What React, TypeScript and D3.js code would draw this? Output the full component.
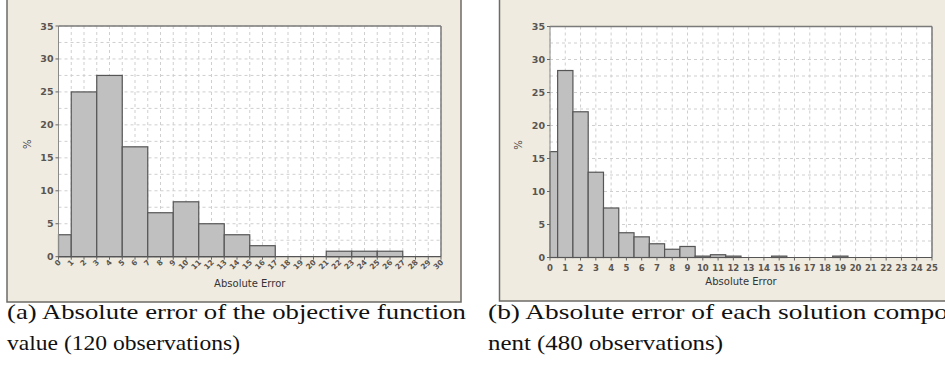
import React from "react";
import * as d3 from "d3";

// Panel (a): absolute error of the objective function (bins width 2, first bin 0-1)
const edgesA = [0, 1, 3, 5, 7, 9, 11, 13, 15, 17, 19, 21, 23, 25, 27, 29, 30];
const pctA = [3.33, 25, 27.5, 16.67, 6.67, 8.33, 5, 3.33, 1.67, 0, 0, 0.83, 0.83, 0.83, 0, 0];
const xTicksA = d3.range(0, 31);

// Panel (b): absolute error of each solution component (bins width 1, first bin 0-0.5)
const edgesB = [0, 0.5, 1.5, 2.5, 3.5, 4.5, 5.5, 6.5, 7.5, 8.5, 9.5, 10.5, 11.5, 12.5, 13.5, 14.5, 15.5, 16.5, 17.5, 18.5, 19.5, 20.5, 21.5, 22.5, 23.5, 24.5, 25];
const pctB = [16.04, 28.33, 22.08, 12.92, 7.5, 3.75, 3.13, 2.08, 1.25, 1.67, 0.21, 0.42, 0.21, 0, 0, 0.21, 0, 0, 0, 0.21, 0, 0, 0, 0, 0, 0];
const xTicksB = d3.range(0, 26);

const yTicks = [0, 5, 10, 15, 20, 25, 30, 35];
const yGrid = d3.range(0, 35.01, 2.5);

const captionA = ["(a) Absolute error of the objective function", "value (120 observations)"];
const captionB = ["(b) Absolute error of each solution compo", "nent (480 observations)"];

type PanelProps = {
  frameX: number; frameW: number; frameH: number;
  left: number; right: number; top: number; bottom: number;
  xMax: number; edges: number[]; values: number[]; xTicks: number[];
  rotated: boolean; yLabelX: number; xLabelY: number;
};

const tickFont = "'DejaVu Sans', Verdana, sans-serif";

function Panel(p: PanelProps) {
  const x = d3.scaleLinear().domain([0, p.xMax]).range([p.left, p.right]);
  const y = d3.scaleLinear().domain([0, 35]).range([p.bottom, p.top]);
  return (
    <g>
      <rect x={p.frameX} y={-1} width={p.frameW} height={p.frameH} fill="#efebe1" stroke="#6e6b66" strokeWidth={1.5} />
      <rect x={p.left} y={p.top} width={p.right - p.left} height={p.bottom - p.top} fill="#ffffff" />
      {p.xTicks.map((t) => (
        <line key={"vg" + t} x1={x(t)} x2={x(t)} y1={p.top} y2={p.bottom} stroke="#cfcfcf" strokeDasharray="3,3" strokeWidth={1} />
      ))}
      {yGrid.map((t) => (
        <line key={"hg" + t} x1={p.left} x2={p.right} y1={y(t)} y2={y(t)} stroke="#cfcfcf" strokeDasharray="3,3" strokeWidth={1} />
      ))}
      {p.values.map((v, i) =>
        v > 0 ? (
          <rect key={"b" + i} x={x(p.edges[i])} y={y(v)} width={x(p.edges[i + 1]) - x(p.edges[i])} height={y(0) - y(v)}
            fill="#c0c0c0" stroke="#555555" strokeWidth={1.2} />
        ) : null
      )}
      {/* plot border */}
      <line x1={p.left} x2={p.right} y1={p.top} y2={p.top} stroke="#7a7a7a" strokeWidth={1.5} />
      <line x1={p.right} x2={p.right} y1={p.top} y2={p.bottom} stroke="#7a7a7a" strokeWidth={1.5} />
      <line x1={p.left} x2={p.left} y1={p.top} y2={p.bottom} stroke="#8a8a8a" strokeWidth={1} />
      <line x1={p.left} x2={p.right} y1={p.bottom} y2={p.bottom} stroke="#555555" strokeWidth={1.2} />
      {/* y ticks */}
      {yTicks.map((t) => (
        <g key={"yt" + t}>
          <line x1={p.left - 3} x2={p.left} y1={y(t)} y2={y(t)} stroke="#666" strokeWidth={1} />
          <text x={p.left - 5} y={y(t) + 3.5} textAnchor="end" fontFamily={tickFont} fontSize={9.5} fontWeight="bold" fill="#5a5550">{t}</text>
        </g>
      ))}
      {/* x ticks */}
      {p.xTicks.map((t) => (
        <g key={"xt" + t}>
          <line x1={x(t)} x2={x(t)} y1={p.bottom} y2={p.bottom + 3} stroke="#666" strokeWidth={1} />
          {p.rotated ? (
            <text transform={`translate(${x(t) + 3},${p.bottom + 6}) rotate(-45)`} textAnchor="end" fontFamily={tickFont} fontSize={7.5} fontWeight="bold" fill="#5a5550">{t}</text>
          ) : (
            <text x={x(t)} y={p.bottom + 13} textAnchor="middle" fontFamily={tickFont} fontSize={8.5} fontWeight="bold" fill="#5a5550">{t}</text>
          )}
        </g>
      ))}
      <text transform={`translate(${p.yLabelX},${(p.top + p.bottom) / 2 + 3}) rotate(-90)`} textAnchor="middle" fontFamily={tickFont} fontSize={10} fill="#444">%</text>
      <text x={(p.left + p.right) / 2} y={p.xLabelY} textAnchor="middle" fontFamily={tickFont} fontSize={10} fill="#333">Absolute Error</text>
    </g>
  );
}

export default function App() {
  const capFont = "'Liberation Serif', 'DejaVu Serif', serif";
  return (
    <svg width={945} height={373} style={{ position: "absolute", left: 0, top: 0, background: "#ffffff" }}>
      <Panel frameX={7} frameW={454} frameH={303} left={58.5} right={441} top={26} bottom={256.7} xMax={30}
        edges={edgesA} values={pctA} xTicks={xTicksA} rotated={true} yLabelX={31} xLabelY={286.5} />
      <Panel frameX={499.5} frameW={460} frameH={302} left={550} right={932} top={26.5} bottom={257.5} xMax={25}
        edges={edgesB} values={pctB} xTicks={xTicksB} rotated={false} yLabelX={522} xLabelY={285} />
      <text x={7} y={318.5} fontFamily={capFont} fontSize={21} fill="#111" textLength={459} lengthAdjust="spacingAndGlyphs">{captionA[0]}</text>
      <text x={7} y={350} fontFamily={capFont} fontSize={21} fill="#111" textLength={233} lengthAdjust="spacingAndGlyphs">{captionA[1]}</text>
      <text x={488} y={318.5} fontFamily={capFont} fontSize={21} fill="#111" textLength={460} lengthAdjust="spacingAndGlyphs">{captionB[0]}</text>
      <text x={488} y={350} fontFamily={capFont} fontSize={21} fill="#111" textLength={235} lengthAdjust="spacingAndGlyphs">{captionB[1]}</text>
    </svg>
  );
}
